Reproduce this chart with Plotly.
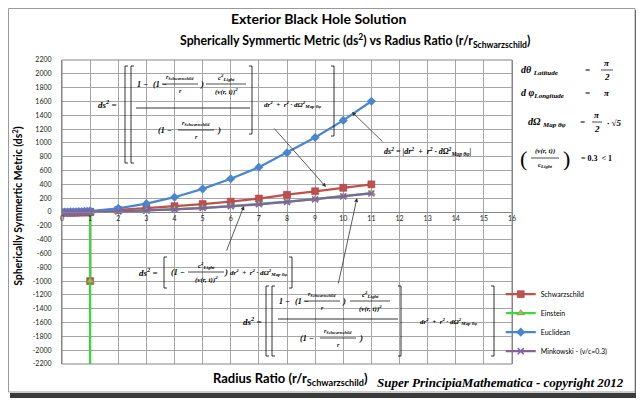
import plotly.graph_objects as go

# ---------------- data ----------------
radius = [0, 0.1, 0.2, 0.3, 0.4, 0.5, 0.6, 0.7, 0.8, 0.9, 1, 2, 3, 4, 5, 6, 7, 8, 9, 10, 11]

schw_x = [0, 0.1, 0.2, 0.3, 0.4, 0.5, 0.6, 0.7, 0.8, 0.9, 1, 1, 1, 2, 3, 4, 5, 6, 7, 8, 9, 10, 11]
schw_y = [-8, -9, -10, -10, -10, -9, -8, -7, -6, -5, -4, -1000, 4, 30, 55, 85, 115, 150, 195, 250, 300, 350, 400]

ein_x = [0, 0.1, 0.2, 0.3, 0.4, 0.5, 0.6, 0.7, 0.8, 0.9, 1, 1, 1, 1, 2, 3, 4, 5, 6, 7, 8, 9, 10, 11]
ein_y = [-10, -10, -10, -10, -10, -10, -10, -10, -10, -10, -8, -1000, -2600, 2, 10, 22, 40, 60, 86, 116, 150, 188, 230, 275]

eucl_y = [1, 1, 1, 2, 3, 4, 5, 7, 9, 11, 14, 54, 121, 214, 334, 481, 648, 858, 1078, 1326, 1603]
mink_y = [-10, -10, -10, -9, -8, -7, -6, -5, -4, -3, -1, 8, 20, 37, 57, 82, 111, 145, 183, 226, 268]

x_ticks = list(range(0, 17))
y_ticks = list(range(-2200, 2201, 200))

# ---------------- layout helpers ----------------
# page offset: the html body has an 8px margin
OFF = 8
FIG_W, FIG_H = 644 - OFF, 402 - OFF
L, T, W, H = 62, 60, 450, 304          # plot area in page pixels


def P(x, y):
    return (x - L) / W, 1 - (y - T) / H


SERIF = "Liberation Serif"
SANS = "Lato"

annotations = []
shapes = []


def txt(x, y, s, size=8, anchor="center", family=SERIF, bold=True, italic=True, color="#000"):
    px, py = P(x, y)
    if italic:
        s = "<i>" + s + "</i>"
    if bold:
        s = "<b>" + s + "</b>"
    annotations.append(dict(x=px, y=py, xref="paper", yref="paper", text=s, showarrow=False,
                            xanchor=anchor, yanchor="middle",
                            font=dict(family=family, size=size, color=color)))


def hline(x0, x1, y, w=0.8, color="#000"):
    a0, b0 = P(x0, y)
    a1, _ = P(x1, y)
    shapes.append(dict(type="line", xref="paper", yref="paper", x0=a0, x1=a1, y0=b0, y1=b0,
                       line=dict(color=color, width=w)))


def vline(x, y0, y1, w=0.8, color="#000"):
    a0, b0 = P(x, y0)
    _, b1 = P(x, y1)
    shapes.append(dict(type="line", xref="paper", yref="paper", x0=a0, x1=a0, y0=b0, y1=b1,
                       line=dict(color=color, width=w)))


def bracket(x, y0, y1, side="l", w=0.8):
    vline(x, y0, y1, w)
    d = 3 if side == "l" else -3
    hline(x, x + d, y0, w)
    hline(x, x + d, y1, w)


def frac(cx, cy, top, bottom, half, size=7):
    txt(cx, cy - 7, top, size)
    hline(cx - half, cx + half, cy, 0.7)
    txt(cx, cy + 7, bottom, size)


def arrow(hx, hy, tx, ty):
    px, py = P(hx, hy)
    annotations.append(dict(x=px, y=py, xref="paper", yref="paper", text="", showarrow=True,
                            ax=tx - hx, ay=ty - hy, arrowhead=2, arrowsize=1, arrowwidth=0.8,
                            arrowcolor="#333"))


RS = "r<sub>Schwarzschild</sub>"
C2 = "c<sup>2</sup><sub>Light</sub>"
V2 = "(v(r, t))<sup>2</sup>"
TAIL = "dr<sup>2</sup>  +  r<sup>2</sup> · dΩ<sup>2</sup><sub>Map θφ</sub>"

# ---- formula 1 (Schwarzschild) ----
txt(107, 104, "ds<sup>2</sup> =", 9)
bracket(125, 66, 163, "l")
bracket(131, 66, 163, "l")
txt(142, 84, "1 −", 8)
txt(160, 84, "(1 −", 8)
frac(180, 84, RS, "r", 18, 6)
txt(202, 84, ")", 9)
frac(226, 84, C2, V2, 20, 7)
hline(136, 250, 108, 0.8)
txt(165, 130, "(1 −", 8)
frac(196, 130, RS, "r", 18, 6)
txt(219, 130, ")", 9)
bracket(252, 66, 134, "r")
txt(292, 104, TAIL, 7)
bracket(334, 66, 136, "r")
arrow(326, 187, 273, 127)

# ---- formula 2 (Euclidean) ----
txt(428, 151, "ds<sup>2</sup> = |dr<sup>2</sup>  +  r<sup>2</sup> · dΩ<sup>2</sup><sub>Map θφ</sub>|", 8)
arrow(352, 112, 384, 143)

# ---- formula 3 (Minkowski) ----
txt(148, 272, "ds<sup>2</sup> =", 9)
bracket(164, 257, 288, "l")
txt(178, 272, "(1 −", 8)
frac(206, 272, C2, V2, 18, 7)
txt(226, 272, ")", 9)
txt(258, 272, TAIL, 7)
bracket(292, 257, 288, "r")
arrow(244, 206, 226, 252)

# ---- formula 4 (Einstein) ----
txt(252, 321, "ds<sup>2</sup> =", 9)
bracket(266, 286, 356, "l")
bracket(272, 286, 356, "l")
txt(284, 301, "1 −", 8)
txt(302, 301, "(1 −", 8)
frac(322, 301, RS, "r", 18, 6)
txt(344, 301, ")", 9)
frac(370, 301, C2, V2, 20, 7)
hline(278, 398, 319, 0.8)
txt(307, 338, "(1 −", 8)
frac(338, 338, RS, "r", 18, 6)
txt(361, 338, ")", 9)
bracket(401, 286, 356, "r")
txt(448, 321, TAIL, 7)
bracket(494, 286, 356, "r")
arrow(357, 198, 338, 285)

# ---- right-side notes ----
txt(519, 70, "dθ <sub>Latitude</sub>", 10, "left")
txt(587, 70, "=", 9)
frac(607, 70, "π", "2", 6, 9)
txt(519, 93, "d φ<sub>Longitude</sub>", 10, "left")
txt(587, 93, "=", 9)
txt(607, 93, "π", 9)
txt(526, 122, "dΩ <sub>Map θφ</sub>", 10, "left")
txt(582, 122, "=", 9)
frac(597, 122, "π", "2", 5, 9)
txt(614, 123, "· √5", 9)
txt(523, 158, "(", 22, bold=False, italic=False)
frac(545, 158, "(v(r, t))", "c<sub>Light</sub>", 14, 7)
txt(566, 158, ")", 22, bold=False, italic=False)
txt(596, 158, "= 0.3  < 1", 8, italic=False)

# ---- titles ----
txt(319, 19, "Exterior Black Hole Solution", 14, family=SANS, italic=False)
txt(355, 41, "Spherically Symmertic Metric (ds<sup>2</sup>) vs Radius Ratio (r/r<sub>Schwarzschild</sub>)", 12.3,
    family=SANS, italic=False)
txt(290, 379, "Radius Ratio (r/r<sub>Schwarzschild</sub>)", 13, family=SANS, italic=False)
txt(500, 382, "Super PrincipiaMathematica - copyright 2012", 13)
annotations.append(dict(x=-0.098, y=0.52, xref="paper", yref="paper", textangle=-90,
                        text="<b>Spherically Symmertic Metric (ds<sup>2</sup>)</b>", showarrow=False,
                        xanchor="center", yanchor="middle",
                        font=dict(family=SANS, size=10.5, color="#000")))

# ---- outer chart frame ----
a0, b0 = P(10, 393)
a1, b1 = P(638, 398)
shapes.insert(0, dict(type="rect", xref="paper", yref="paper", x0=a0, x1=a1, y0=b0, y1=b1,
                      fillcolor="#3a3a3a", line=dict(width=0), layer="below"))
a0, b0 = P(635, 10)
a1, b1 = P(640, 398)
shapes.insert(0, dict(type="rect", xref="paper", yref="paper", x0=a0, x1=a1, y0=b0, y1=b1,
                      fillcolor="#6a6a6a", line=dict(width=0), layer="below"))
a0, b0 = P(8.5, 8.5)
a1, b1 = P(635, 392)
shapes.insert(0, dict(type="rect", xref="paper", yref="paper", x0=a0, x1=a1, y0=b0, y1=b1,
                      fillcolor="rgba(0,0,0,0)", line=dict(color="#9a9a9a", width=1), layer="below"))

# ---------------- traces ----------------
fig = go.Figure()
fig.add_trace(go.Scatter(x=schw_x, y=schw_y, name="Schwarzschild", mode="lines+markers",
                         line=dict(color="#C0504D", width=2.25, simplify=False),
                         marker=dict(symbol="square", size=7, color="#C0504D",
                                     line=dict(color="#A03C3A", width=0.5))))
fig.add_trace(go.Scatter(x=ein_x, y=ein_y, name="Einstein", mode="lines+markers",
                         line=dict(color="#33DD33", width=2.25, simplify=False),
                         marker=dict(symbol="triangle-up", size=7, color="#9BBB59",
                                     line=dict(color="#71893F", width=0.5))))
fig.add_trace(go.Scatter(x=radius, y=eucl_y, name="Euclidean", mode="lines+markers",
                         line=dict(color="#4A86D0", width=2.25),
                         marker=dict(symbol="diamond", size=7, color="#4A86D0")))
fig.add_trace(go.Scatter(x=radius, y=mink_y, name="Minkowski - (v/c=0.3)", mode="lines+markers",
                         line=dict(color="#8064A2", width=2.25),
                         marker=dict(symbol="x-thin", size=6, color="#8064A2",
                                     line=dict(color="#8064A2", width=1.5))))

fig.update_layout(
    width=FIG_W, height=FIG_H,
    margin=dict(l=L - OFF, r=FIG_W - (L - OFF) - W, t=T - OFF, b=FIG_H - (T - OFF) - H),
    paper_bgcolor="white", plot_bgcolor="white",
    showlegend=True,
    legend=dict(x=0.975, y=0.2775, xanchor="left", yanchor="top", font=dict(family=SANS, size=7, color="#000"),
                bgcolor="rgba(0,0,0,0)", itemwidth=30, tracegroupgap=0),
    annotations=annotations,
    shapes=shapes,
    font=dict(family=SANS),
)
fig.update_xaxes(range=[0, 16], tickvals=x_ticks, ticktext=[str(v) for v in x_ticks],
                 showgrid=True, gridcolor="#A6A6A6", gridwidth=1,
                 showline=True, linecolor="#868686", linewidth=1,
                 anchor="free", position=0.5, ticks="", zeroline=False,
                 tickfont=dict(family=SANS, size=7, color="#222"), mirror=False)
fig.update_yaxes(range=[-2200, 2200], tickvals=y_ticks, ticktext=[str(v) for v in y_ticks],
                 showgrid=True, gridcolor="#A6A6A6", gridwidth=1,
                 showline=True, linecolor="#868686", linewidth=1, mirror=True,
                 ticks="", zeroline=False, ticklabelstandoff=8,
                 tickfont=dict(family=SANS, size=7, color="#222"))
fig.add_shape(type="rect", xref="paper", yref="paper", x0=0, x1=1, y0=0, y1=1,
              line=dict(color="#868686", width=1), fillcolor="rgba(0,0,0,0)")

fig.write_html("out.html")
